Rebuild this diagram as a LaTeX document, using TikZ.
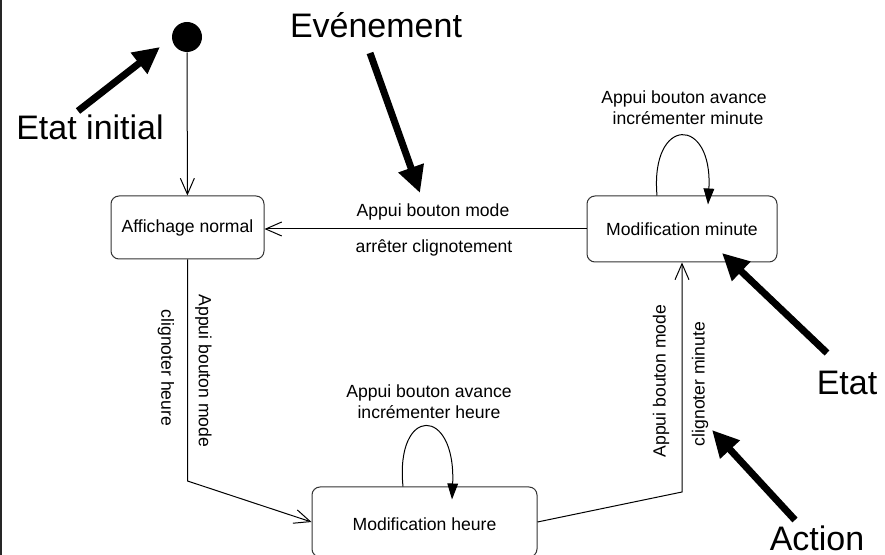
\documentclass[tikz,border=0pt]{standalone}
\usepackage{fontspec}
\setmainfont{Liberation Sans}
\usetikzlibrary{arrows.meta,calc}

\begin{document}
\begin{tikzpicture}[x=0.75pt,y=-0.75pt,
  state/.style={draw=black!80, rounded corners=6pt, line width=0.75pt, inner sep=0pt,
    font=\fontsize{13.2}{16}\selectfont},
  lbl/.style={inner sep=0pt, font=\fontsize{13.2}{16}\selectfont},
  big/.style={inner sep=0pt, anchor=base, font=\fontsize{25.5}{30}\selectfont},
  trans/.style={line width=0.75pt, -{Straight Barb[length=12pt,width=10.5pt]}},
  selfloop/.style={line width=0.75pt, -{Triangle[length=12pt,width=8pt]}},
  pointer/.style={line width=5.25pt, -{Triangle[length=20pt,width=19pt]}},
]
\useasboundingbox (0,0) rectangle (885,555);
\clip (0,0) rectangle (885,555);
\fill[white] (0,0) rectangle (885,555);
\draw[line width=1.5pt, black!85] (0.8,0) -- (0.8,555);

% states
\node[circle, fill=black, minimum size=22.5pt, inner sep=0pt] (init) at (187,37) {};
\node[state, minimum width=114.75pt, minimum height=47.25pt] (an) at (187.5,227.5) {Affichage normal};
\node[state, minimum width=142.5pt, minimum height=49.5pt] (mm) at (682,229) {Modification minute};
\node[state, minimum width=168.75pt, minimum height=52.5pt] (mh) at (424.5,522) {};
\node[lbl] (mhtext) at (424.5,524) {Modification heure};

% bends
\coordinate (b1) at (187.5,481);
\coordinate (b2) at (682,492);

% transitions
\draw[trans] (init) -- (an);
\draw[trans] (mm.west) -- (mm.west -| an.east);
\draw[trans] (an.south) -- (b1) -- (mh.west);
\draw[trans] (mh.east) -- (b2) -- (mm.south);

% self loops
\draw[selfloop] ($(mm.north)+(-25,0)$) .. controls ($(mm.north)+(-32,-80)$) and ($(mm.north)+(31,-80)$) .. ($(mm.north)+(26,9)$);
\draw[selfloop] ($(mh.north)+(-21.5,0)$) .. controls ($(mh.north)+(-29.5,-81)$) and ($(mh.north)+(31.5,-81)$) .. ($(mh.north)+(27.5,13)$);

% transition labels
\node[lbl] (t1a) at (433,212) {Appui bouton mode};
\node[lbl] (t1b) at (434,248) {arrêter clignotement};
\node[lbl, rotate=-90] (t2a) at (203.5,371) {Appui bouton mode};
\node[lbl, rotate=-90] (t2b) at (166,368) {clignoter heure};
\node[lbl, rotate=90] (t3a) at (661,381) {Appui bouton mode};
\node[lbl, rotate=90] (t3b) at (700,384) {clignoter minute};
\node[lbl, anchor=base] (l1a) at (684,104) {Appui bouton avance};
\node[lbl, anchor=base] (l1b) at (688,125) {incrémenter minute};
\node[lbl, anchor=base] (l2a) at (429,398) {Appui bouton avance};
\node[lbl, anchor=base] (l2b) at (429,419) {incrémenter heure};

% annotations
\node[big] (kinit) at (90,140) {Etat initial};
\node[big] (kev) at (376,38) {Evénement};
\node[big] (ketat) at (847,395) {Etat};
\node[big] (kact) at (817,550) {Action};

\coordinate (p1a) at (78,111);  \coordinate (p1b) at (160,47);
\coordinate (p2a) at (370,53);  \coordinate (p2b) at (420,193);
\coordinate (p3a) at (827,353); \coordinate (p3b) at (722,253);
\coordinate (p4a) at (795,520); \coordinate (p4b) at (712,430);
\draw[pointer] (p1a) -- (p1b);
\draw[pointer] (p2a) -- (p2b);
\draw[pointer] (p3a) -- (p3b);
\draw[pointer] (p4a) -- (p4b);
\end{tikzpicture}
\end{document}
